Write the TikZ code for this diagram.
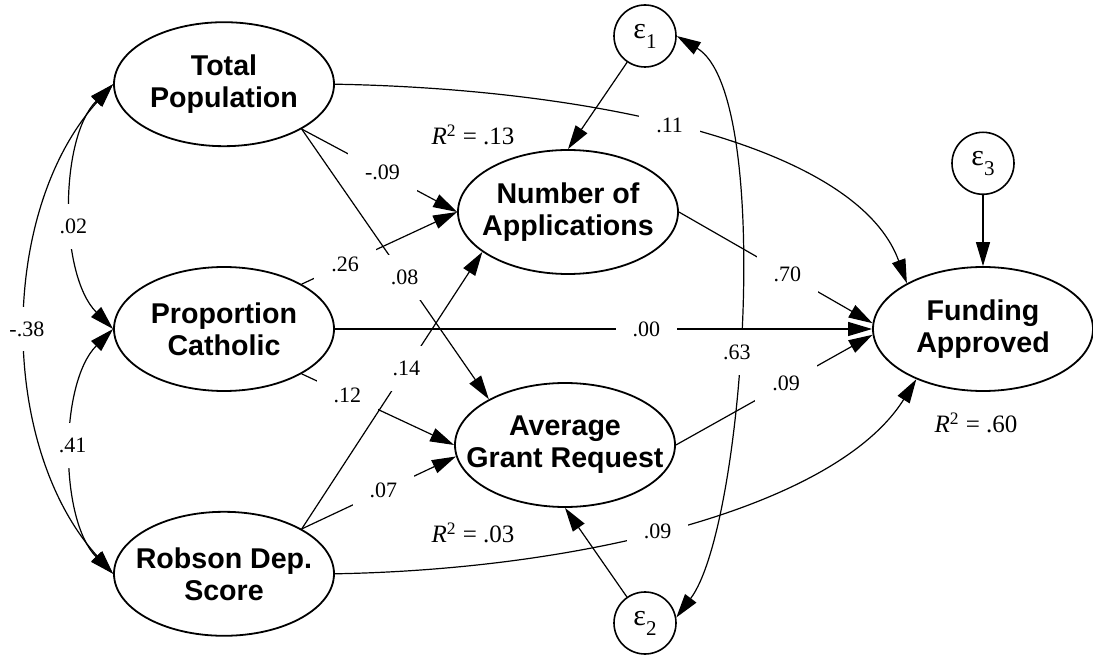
\documentclass[tikz,border=0pt]{standalone}
\usepackage{fontspec}
\setmainfont{Liberation Serif}
\setsansfont{Liberation Sans}
\usetikzlibrary{shapes.geometric, arrows.meta, positioning}

\begin{document}
\begin{tikzpicture}[x=0.5pt, y=0.5pt]
    % Node Styles
    \tikzstyle{var} = [ellipse, draw, line width=0.9pt, minimum width=110pt, minimum height=62pt, inner xsep=-11pt, align=center, font=\sffamily\bfseries\fontsize{14.3}{16}\selectfont]
    \tikzstyle{err} = [circle, draw, line width=0.8pt, minimum size=31pt, inner sep=0pt, font=\fontsize{15}{15}\selectfont]
    \tikzstyle{reg} = [draw, line width=0.6pt, -{Triangle[length=12pt, width=7pt]}]
    \tikzstyle{cov} = [draw, line width=0.6pt, {Triangle[length=12pt, width=7pt]}-{Triangle[length=12pt, width=7pt]}]
    \tikzstyle{coef} = [fill=white, inner xsep=8.5pt, inner ysep=7.5pt, font=\fontsize{11}{13}\selectfont]
    \tikzstyle{rsq} = [font=\fontsize{12.5}{14}\selectfont]

    \useasboundingbox (0,0) rectangle (1093,654);

    % Exogenous
    \node [var] (pc) at (224,325) {Proportion\\Catholic};
    \node [var, above=59.5pt of pc] (tp) {Total\\Population};
    \node [var, below=59.5pt of pc] (rds) {Robson Dep.\\Score};

    % Mediators
    \node [var] (na) at (568,442) {Number of\\Applications};
    \node [var] (agr) at (565,209) {Average\\Grant Request};

    % Outcome
    \node [var] (fa) at (983,325) {Funding\\Approved};

    % Errors
    \node [err] (e1) at (645,618) {ε\raisebox{-5pt}{\fontsize{10.5}{10.5}\selectfont 1}};
    \node [err] (e2) at (645,31) {ε\raisebox{-5pt}{\fontsize{10.5}{10.5}\selectfont 2}};
    \node [err, above=35.5pt of fa] (e3) {ε\raisebox{-5pt}{\fontsize{10.5}{10.5}\selectfont 3}};

    % R squared
    \node [rsq] (na-r2) at (473,519) {\textit{R}\textsuperscript{2} = .13};
    \node [rsq] (agr-r2) at (473,121) {\textit{R}\textsuperscript{2} = .03};
    \node [rsq] (fa-r2) at (976,231) {\textit{R}\textsuperscript{2} = .60};

    % Covariances
    \draw [cov] (tp.west) to[out=225, in=135, looseness=0.8] node[coef, pos=0.57] {.02} (pc.west);
    \draw [cov] (pc.west) to[out=225, in=135, looseness=0.8] node[coef, pos=0.48] {.41} (rds.west);
    \draw [cov] (tp.west) to[out=228, in=132, looseness=0.9] node[coef, pos=0.5] {-.38} (rds.west);
    \draw [cov] (e1.east) to[out=-31, in=53, looseness=0.5] node[coef, pos=0.55] {.63} (e2.10);

    % Paths
    \draw [reg] (tp.-30) -- node[coef, pos=0.52] {-.09} (na.west);
    \draw [reg] (tp.-30) -- node[coef, pos=0.55] {.08} (agr.149);
    \draw [reg] (pc.30) -- node[coef, pos=0.28] {.26} (na.west);
    \draw [reg] (pc.-30) -- node[coef, pos=0.30] {.12} (agr.west);
    \draw [reg] (rds.30) -- node[coef, pos=0.58] {.14} (na.205);
    \draw [reg] (rds.30) -- node[coef, pos=0.53] {.07} (agr.186);
    \draw [reg] (pc.east) -- node[coef, pos=0.58] {.00} (fa.west);
    \draw [reg] (na.east) -- node[coef, pos=0.56] {.70} (fa.177);
    \draw [reg] (agr.east) -- node[coef, pos=0.56] {.09} (fa.183);
    \draw [reg] (tp.east) .. controls +(-1:250) and +(110:150) .. node[coef, pos=0.46] {.11} (fa.149);
    \draw [reg] (rds.east) .. controls +(1:250) and +(238:150) .. node[coef, pos=0.45] {.09} (fa.217);
    \draw [reg] (e1) -- (na.north);
    \draw [reg] (e2) -- (agr.south);
    \draw [reg] (e3) -- (fa);
\end{tikzpicture}
\end{document}
